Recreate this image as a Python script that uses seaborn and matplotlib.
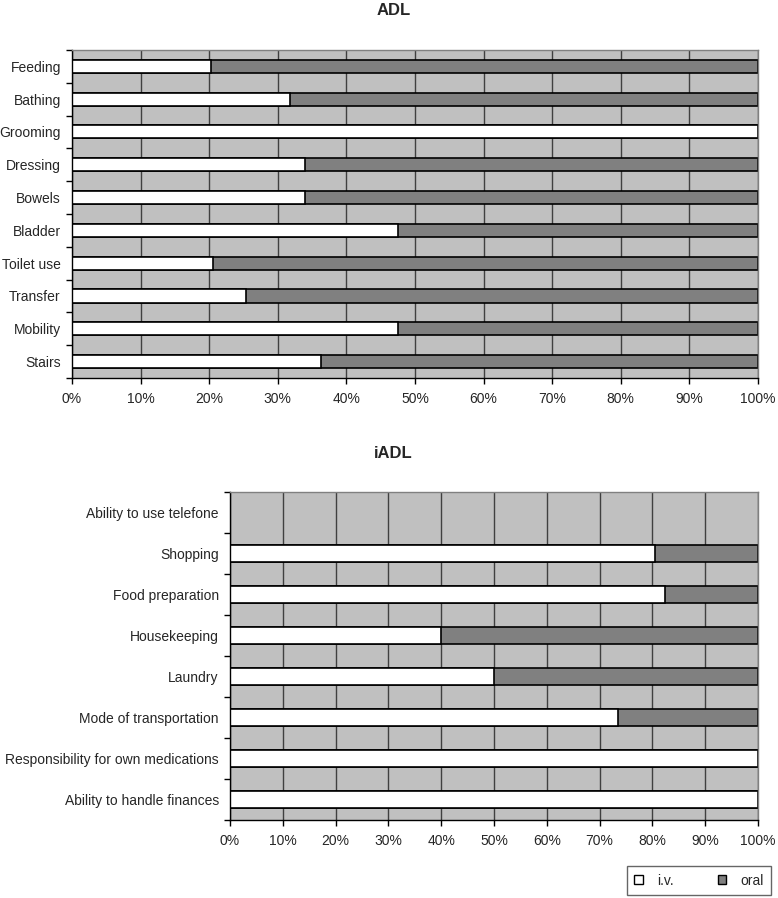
import numpy as np
import pandas as pd
import matplotlib
matplotlib.use("Agg")
import matplotlib.pyplot as plt
import seaborn as sns
from matplotlib.patches import Patch

# dados (% i.v.; o resto é oral)
adl_itens = ['Feeding', 'Bathing', 'Grooming', 'Dressing', 'Bowels', 'Bladder',
             'Toilet use', 'Transfer', 'Mobility', 'Stairs']
adl_iv = [20.3, 31.8, 100.0, 34.0, 34.0, 47.5, 20.6, 25.4, 47.5, 36.3]
adl_oral = [79.7, 68.2, 0.0, 66.0, 66.0, 52.5, 79.4, 74.6, 52.5, 63.7]

iadl_itens = ['Ability to use telefone', 'Shopping', 'Food preparation', 'Housekeeping',
              'Laundry', 'Mode of transportation', 'Responsibility for own medications',
              'Ability to handle finances']
iadl_iv = [0.0, 80.5, 82.4, 40.0, 50.0, 73.5, 100.0, 100.0]
iadl_oral = [0.0, 19.5, 17.6, 60.0, 50.0, 26.5, 0.0, 0.0]

x_ticks = list(range(0, 101, 10))
x_labels = [f'{t}%' for t in x_ticks]

sns.set_style('white')
plt.rcParams['font.family'] = ['Liberation Sans', 'DejaVu Sans']

cor_fundo = '#c0c0c0'
cor_oral = '#808080'
cor_iv = '#ffffff'

fig = plt.figure(figsize=(7.78, 8.98), dpi=100)
ax1 = fig.add_axes([0.0925, 0.5791, 0.8817, 0.3653])
ax2 = fig.add_axes([0.2956, 0.0869, 0.6787, 0.3653])


def desenha(ax, itens, iv, oral):
    df = pd.DataFrame({'item': itens, 'iv': iv, 'oral': oral})
    df['total'] = df['iv'] + df['oral']
    ax.set_facecolor(cor_fundo)
    ax.set_axisbelow(True)
    ax.grid(axis='x', color='#404040', linewidth=1.0)
    ax.grid(axis='y', visible=False)
    # barra total (oral) por baixo, i.v. por cima
    sns.barplot(data=df, x='total', y='item', orient='h', color=cor_oral,
                edgecolor='black', linewidth=1.2, width=0.4, saturation=1, ax=ax)
    sns.barplot(data=df, x='iv', y='item', orient='h', color=cor_iv,
                edgecolor='black', linewidth=1.2, width=0.4, saturation=1, ax=ax)
    # esconder barras de largura zero
    for p in ax.patches:
        if p.get_width() == 0:
            p.set_visible(False)
    n = len(itens)
    ax.set_xlim(0, 100)
    ax.set_ylim(n - 0.5, -0.5)
    ax.set_xticks(x_ticks)
    ax.set_xticklabels(x_labels, fontsize=10)
    ax.set_yticks(range(n))
    ax.set_yticklabels(itens, fontsize=10)
    ax.set_yticks(np.arange(-0.5, n, 1), minor=True)
    ax.tick_params(axis='y', which='major', length=0, pad=8)
    ax.tick_params(axis='y', which='minor', length=4, width=1, color='black', left=True)
    ax.tick_params(axis='x', length=4, width=1, color='black', bottom=True, pad=6)
    ax.set_xlabel('')
    ax.set_ylabel('')
    for lado in ['left', 'bottom']:
        ax.spines[lado].set_color('black')
        ax.spines[lado].set_linewidth(1.0)
    for lado in ['top', 'right']:
        ax.spines[lado].set_color('#808080')
        ax.spines[lado].set_linewidth(1.0)


desenha(ax1, adl_itens, adl_iv, adl_oral)
desenha(ax2, iadl_itens, iadl_iv, iadl_oral)

# títulos centrados na figura, como no Excel
fig.text(0.506, 0.9883, 'ADL', fontsize=12, fontweight='bold', ha='center', va='center')
fig.text(0.506, 0.4955, 'iADL', fontsize=12, fontweight='bold', ha='center', va='center')

handles = [Patch(facecolor=cor_iv, edgecolor='black', label='i.v.'),
           Patch(facecolor=cor_oral, edgecolor='black', label='oral')]
fig.legend(handles=handles, loc='lower right', bbox_to_anchor=(0.991, 0.003), ncol=2,
           fontsize=10, frameon=True, fancybox=False, edgecolor='#404040',
           handlelength=0.6, handleheight=0.6, columnspacing=3.2, borderpad=0.55,
           handletextpad=1.0, borderaxespad=0.0)

fig.savefig('out.png', dpi=100)
